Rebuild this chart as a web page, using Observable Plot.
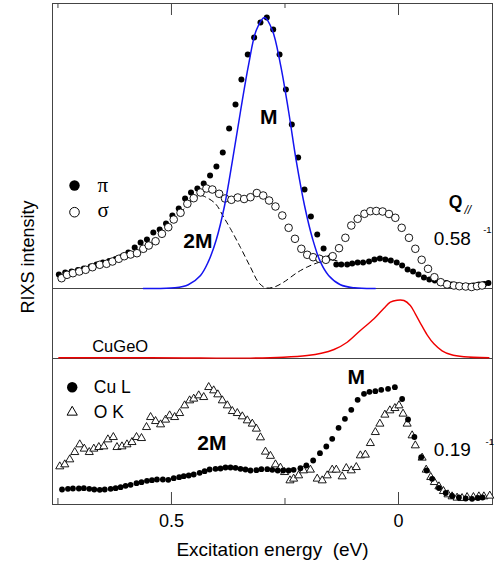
<!DOCTYPE html>
<html><head><meta charset="utf-8">
<script src="https://cdn.jsdelivr.net/npm/d3@7"></script>
<script src="https://cdn.jsdelivr.net/npm/@observablehq/plot@0.6"></script>
<style>
body{margin:0;background:#fff;}
#wrap{position:relative;width:497px;height:566px;overflow:hidden;background:#fff;font-family:"Liberation Sans",Arial,Helvetica,sans-serif;}
.panel{position:absolute;left:0;}
#ylab{position:absolute;left:27.5px;top:257px;transform:translate(-50%,-50%) rotate(-90deg);font-size:18px;white-space:nowrap;color:#000;}
</style></head><body>
<div id="wrap">
<div id="bot" class="panel" style="top:357px"></div>
<div id="mid" class="panel" style="top:287px"></div>
<div id="top" class="panel" style="top:0px"></div>
<div id="ylab">RIXS intensity</div>
</div>
<script>
// ---- Data (energy in eV, intensity in arbitrary units) ----
const xDomain = [0.762, -0.207];
const tickMajor = [0.5, 0];
const tickMinor = [0.75, 0.25];

// Top panel: Q// = 0.58, pi polarization (filled)
const piEnergy = [0.748,0.734,0.720,0.706,0.693,0.678,0.665,0.651,0.637,0.623,
  0.609,0.595,0.581,0.568,0.554,0.540,0.526,0.512,0.498,0.484,
  0.470,0.457,0.443,0.429,0.415,0.401,0.387,0.373,0.359,0.346,
  0.332,0.318,0.304,0.290,0.276,0.262,0.248,0.235,0.221,0.207,
  0.193,0.179,0.165,0.151,
  0.137,0.126,0.113,0.102,0.090,0.078,0.065,0.053,0.041,0.029,
  0.017,0.004,-0.008,-0.020,-0.032,-0.044,-0.056,-0.068,-0.080,-0.093,
  -0.105,-0.117,-0.129,-0.141,-0.153,-0.165,-0.177,-0.189,-0.198];
const piIntensity = [14,16,17,18.5,20,22,24,26,27.5,29.5,
  32,36,41,46,49,56,59,65,73,80,
  90,96,100,105,113,122,136,160,184,209,
  234,251,266,271,259,234,199,164,131,99,
  72,54,40,31,
  24,24,24,25,26,26,27,29,30,29,
  28,26,23,19,17,14,11,9,8,6.5,
  5.5,4,3,2.5,2.5,3,4,4.5,5.5];

// Top panel: sigma polarization (open)
const sigmaEnergy = [0.742,0.730,0.717,0.703,0.689,0.674,0.658,0.643,0.630,0.616,
  0.604,0.590,0.576,0.562,0.550,0.535,0.521,0.507,0.495,0.480,
  0.465,0.451,0.436,0.423,0.410,0.395,0.382,0.368,0.354,0.340,
  0.326,0.312,0.298,0.285,0.271,0.256,0.242,0.228,0.214,0.201,
  0.188,0.174,0.160,0.145,0.131,0.117,0.104,0.090,0.075,0.062,
  0.049,0.035,0.021,0.007,-0.007,-0.023,-0.037,-0.051,-0.065,-0.079,
  -0.093,-0.107,-0.122,-0.134,-0.148,-0.161,-0.173,-0.184];
const sigmaIntensity = [10.3,13.7,15.3,17,18.7,21.3,23.7,24.7,27,29.7,
  32.3,34,35.3,39.7,43,47.3,54.7,61.3,69,75.7,
  84.7,90.3,96,100,99,94.7,90,88.7,91,89.5,
  91.3,95.5,93,88,82,73,60.7,49.7,39.7,33.7,
  31.3,29.7,28.7,32.3,40.3,50.7,63,69.7,74.7,77.3,
  77.5,77,74.5,70.7,60.7,50.7,39.7,28.7,19.7,11.3,
  6.3,4,3,2.3,2,1.5,2.3,3];

// Top panel: single magnon fit (blue)
const mFitEnergy = [0.562,0.493,0.463,0.436,0.419,0.401,0.383,0.366,0.348,0.330,0.313,0.295,
  0.278,0.260,0.242,0.225,0.207,0.189,0.172,0.154,0.128,0.097,0.051];
const mFitIntensity = [0,0.7,3.8,13.1,26.6,49.3,83,127.1,177,224.2,258.5,271,
  258.5,224.2,177,127.1,83,49.3,26.6,13.1,3.8,0.7,0];

// Top panel: two-magnon part (dashed)
const twoMEnergy = [0.480,0.454,0.436,0.425,0.403,0.385,0.370,0.348,0.326,0.308,0.293,0.275,0.253,0.223,0.201,0.176,0.150,0.128];
const twoMIntensity = [76,88,93,91.5,84.7,71.3,59.7,41,21.3,6,0.7,1.3,6.3,16,21.5,26,28.5,27];

// Middle panel: CuGeO reference (red)
const cugeoEnergy = [0.748,0.546,0.436,0.326,0.253,0.201,0.170,0.142,0.113,0.084,0.054,0.032,0.018,0.003,
  -0.012,-0.026,-0.037,-0.049,-0.063,-0.078,-0.096,-0.115,-0.144,-0.199];
const cugeoIntensity = [0.7,0.7,0.5,0.4,1.3,3,5.2,9,16.3,28,39.7,50.3,56.3,58.3,
  58,53,44.7,34.7,23.7,14.7,7.7,4,1.7,0.7];

// Bottom panel: Q// = 0.19, Cu L edge (filled)
const cuLEnergy = [0.741,0.728,0.717,0.704,0.693,0.681,0.670,0.658,0.647,0.634,
  0.623,0.612,0.601,0.590,0.577,0.566,0.554,0.543,0.532,0.519,
  0.507,0.495,0.483,0.473,0.462,0.451,0.438,0.427,0.416,0.403,
  0.392,0.381,0.370,0.359,0.348,0.337,0.326,0.313,0.302,0.289,
  0.278,0.266,0.254,0.242,0.231,0.216,0.203,0.188,0.173,0.159,
  0.146,0.132,0.118,0.104,0.090,0.076,0.064,0.051,0.038,0.023,
  0.008,-0.008,-0.021,-0.035,-0.050,-0.062,-0.074,-0.089,-0.104,-0.118,
  -0.133,-0.148,-0.162,-0.175,-0.185];
const cuLIntensity = [15,15.7,16,16,16.3,15.7,15,14.7,15,15.7,
  16.3,17.3,18.7,19.7,21.3,22.3,23.7,24.3,25,25,
  24.7,26.3,27.3,28.3,29,30,31.7,33.3,35,35.7,
  36,37,37,36.7,35.7,35,34,34.3,35.3,35.3,
  34.7,34,34,34,34.7,36.3,39,44,51.3,58,
  65.7,76.7,85.7,94.7,104.7,110.7,112.7,113.3,114.7,115.7,
  117.3,105.5,85,67.5,47.3,34,25.7,16.5,11.5,8.5,
  7,6,5.7,6.5,7];

// Bottom panel: O K edge (open triangles)
const oKEnergy = [0.746,0.735,0.724,0.713,0.702,0.692,0.681,0.671,0.660,0.649,
  0.640,0.628,0.620,0.609,0.598,0.587,0.577,0.566,0.555,0.546,
  0.535,0.524,0.513,0.504,0.493,0.482,0.471,0.460,0.451,0.440,
  0.429,0.418,0.407,0.398,0.388,0.377,0.366,0.355,0.344,0.333,
  0.322,0.313,0.304,0.293,0.282,0.271,0.260,0.251,0.239,0.231,
  0.220,0.209,0.194,0.179,0.168,0.157,0.146,0.137,0.124,0.115,
  0.104,0.093,0.084,0.073,0.062,0.051,0.041,0.030,0.019,0.008,
  -0.001,-0.010,-0.019,-0.030,-0.037,-0.052,-0.061,-0.071,-0.079,-0.089,
  -0.099,-0.109,-0.118,-0.129,-0.140,-0.151,-0.165,-0.177,-0.188,-0.201];
const oKIntensity = [38,40,45,52.3,60,55.7,52.3,55.7,57.3,58,
  65,67.3,57.3,58,60,62.3,67.3,66.3,77.3,87.3,
  83.3,80,84.7,89,87.3,91.3,99,104,105.7,109,
  107.3,117.3,114,110,104,99,93.3,91.3,88,84,
  80.7,75.7,67,52.7,48.5,40,36.7,32.3,24,25.7,
  29,34,34.7,25.7,24,29,34.7,34.7,28,36.3,
  34,37.3,49,49.7,61.3,72.3,80.7,89.7,94,96.3,
  99,90.7,80.7,69,59,46.7,34.7,27.3,22.3,18,
  13.3,10,8,6.7,6.3,7.3,7.3,8,8,8.7];

// ---- Build tables ----
const zipE = (E, V) => E.map((e, i) => ({e, v: V[i]}));
const pi = zipE(piEnergy, piIntensity);
const sigma = zipE(sigmaEnergy, sigmaIntensity);
const mFit = zipE(mFitEnergy, mFitIntensity);
const twoM = zipE(twoMEnergy, twoMIntensity);
const cugeo = zipE(cugeoEnergy, cugeoIntensity);
const cuL = zipE(cuLEnergy, cuLIntensity);
const oK = zipE(oKEnergy, oKIntensity);

const SANS = '"Liberation Sans", Arial, Helvetica, sans-serif';
const SERIF = '"Liberation Serif", "DejaVu Serif", serif';
const FRAME = "#444";
const W = 497, ML = 52, MR = 5;
const id = d => d;

// ---- Top panel ----
const topH = 289, topMT = 3, topMB = 1, topInner = topH - topMT - topMB;
const topPlot = Plot.plot({
  width: W, height: topH, marginTop: topMT, marginBottom: topMB, marginLeft: ML, marginRight: MR,
  style: {background: "transparent", fontFamily: SANS, overflow: "visible"},
  x: {domain: xDomain, axis: null},
  y: {domain: [0, 285], axis: null},
  marks: [
    Plot.frame({stroke: FRAME}),
    Plot.ruleX(tickMajor, {x: id, insetBottom: topInner - 12, stroke: FRAME}),
    Plot.ruleX(tickMinor, {x: id, insetBottom: topInner - 5, stroke: FRAME}),
    Plot.line(twoM, {x: "e", y: "v", stroke: "black", strokeWidth: 1, strokeDasharray: "5,4", curve: "catmull-rom"}),
    Plot.dot(pi, {x: "e", y: "v", r: 3, fill: "black"}),
    Plot.dot(sigma, {x: "e", y: "v", r: 3.8, fill: "white", stroke: "black", strokeWidth: 0.9}),
    Plot.line(mFit, {x: "e", y: "v", stroke: "#1414f0", strokeWidth: 1.5, curve: "catmull-rom"}),
    Plot.text(["M"], {x: 0.286, y: 165, text: id, fontSize: 21, fontWeight: "bold", textAnchor: "middle", lineAnchor: "bottom"}),
    Plot.text(["2M"], {x: 0.442, y: 41, text: id, fontSize: 21, fontWeight: "bold", textAnchor: "middle", lineAnchor: "bottom"}),
    // legend
    Plot.dot([0], {frameAnchor: "top-left", dx: 22, dy: 182, r: 5.2, fill: "black"}),
    Plot.dot([0], {frameAnchor: "top-left", dx: 22, dy: 208.7, r: 4.8, fill: "white", stroke: "black", strokeWidth: 1}),
    Plot.text(["π"], {frameAnchor: "top-left", dx: 45, dy: 188.7, text: id, fontFamily: SERIF, fontSize: 21, textAnchor: "start", lineAnchor: "bottom"}),
    Plot.text(["σ"], {frameAnchor: "top-left", dx: 45, dy: 213.7, text: id, fontFamily: SERIF, fontSize: 21, textAnchor: "start", lineAnchor: "bottom"}),
    // Q label
    Plot.text(["Q"], {frameAnchor: "top-left", dx: 396.3, dy: 204.3, text: id, fontSize: 17.5, fontWeight: "bold", textAnchor: "start", lineAnchor: "bottom"}),
    Plot.text(["//"], {frameAnchor: "top-left", dx: 412, dy: 210, text: id, fontSize: 12, fontStyle: "italic", textAnchor: "start", lineAnchor: "bottom"}),
    Plot.text(["0.58"], {frameAnchor: "top-left", dx: 381.3, dy: 241.3, text: id, fontSize: 19, textAnchor: "start", lineAnchor: "bottom"}),
    Plot.text(["-1"], {frameAnchor: "top-left", dx: 430.7, dy: 229.7, text: id, fontSize: 9.5, textAnchor: "start", lineAnchor: "bottom"})
  ]
});
document.getElementById("top").append(topPlot);

// ---- Middle panel ----
const midPlot = Plot.plot({
  width: W, height: 72, marginTop: 1, marginBottom: 1, marginLeft: ML, marginRight: MR,
  style: {background: "transparent", fontFamily: SANS, overflow: "visible"},
  x: {domain: xDomain, axis: null},
  y: {domain: [0, 70], axis: null},
  marks: [
    Plot.frame({stroke: FRAME}),
    Plot.line(cugeo, {x: "e", y: "v", stroke: "#f00000", strokeWidth: 1.4, curve: "catmull-rom"}),
    Plot.text(["CuGeO"], {frameAnchor: "top-left", dx: 39.7, dy: 63.7, text: id, fontSize: 16.5, textAnchor: "start", lineAnchor: "bottom"})
  ]
});
document.getElementById("mid").append(midPlot);

// ---- Bottom panel ----
const botH = 209, botMT = 1, botMB = 62, botInner = botH - botMT - botMB;
const botPlot = Plot.plot({
  width: W, height: botH, marginTop: botMT, marginBottom: botMB, marginLeft: ML, marginRight: MR,
  style: {background: "transparent", fontFamily: SANS, fontSize: "18px", overflow: "visible"},
  x: {domain: xDomain, ticks: tickMajor, tickSize: 0, tickPadding: 10, label: null, tickFormat: d => String(d)},
  y: {domain: [0, 146], axis: null},
  marks: [
    Plot.frame({stroke: FRAME}),
    Plot.ruleX(tickMajor, {x: id, insetTop: botInner - 12, stroke: FRAME}),
    Plot.ruleX(tickMinor, {x: id, insetTop: botInner - 6, stroke: FRAME}),
    Plot.dot(oK, {x: "e", y: "v", symbol: "triangle", r: 3, fill: "white", stroke: "black", strokeWidth: 0.9}),
    Plot.dot(cuL, {x: "e", y: "v", r: 2.9, fill: "black"}),
    Plot.text(["M"], {x: 0.093, y: 120.7, text: id, fontSize: 21, fontWeight: "bold", textAnchor: "middle", lineAnchor: "bottom"}),
    Plot.text(["2M"], {x: 0.411, y: 54.7, text: id, fontSize: 21, fontWeight: "bold", textAnchor: "middle", lineAnchor: "bottom"}),
    // legend
    Plot.dot([0], {frameAnchor: "top-left", dx: 19.7, dy: 28.7, r: 5.2, fill: "black"}),
    Plot.dot([0], {frameAnchor: "top-left", dx: 19.7, dy: 53.7, symbol: "triangle", r: 3.8, fill: "white", stroke: "black", strokeWidth: 1}),
    Plot.text(["Cu L"], {frameAnchor: "top-left", dx: 41.3, dy: 34.7, text: id, fontSize: 17.5, textAnchor: "start", lineAnchor: "bottom"}),
    Plot.text(["O K"], {frameAnchor: "top-left", dx: 41.3, dy: 59.7, text: id, fontSize: 17.5, textAnchor: "start", lineAnchor: "bottom"}),
    Plot.text(["0.19"], {frameAnchor: "top-left", dx: 381.3, dy: 97, text: id, fontSize: 19, textAnchor: "start", lineAnchor: "bottom"}),
    Plot.text(["-1"], {frameAnchor: "top-left", dx: 433, dy: 86, text: id, fontSize: 9.5, textAnchor: "start", lineAnchor: "bottom"}),
    // x-axis title
    Plot.text(["Excitation energy\u00a0 (eV)"], {frameAnchor: "bottom", dy: 51, text: id, fontSize: 19, textAnchor: "middle", lineAnchor: "bottom"})
  ]
});
document.getElementById("bot").append(botPlot);
</script>
</body></html>
